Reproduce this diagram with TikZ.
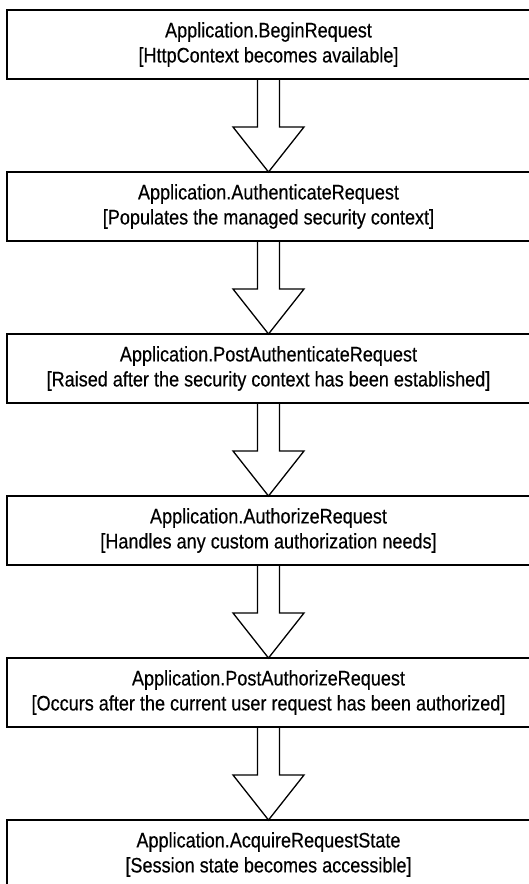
\documentclass[tikz,border=0pt]{standalone}
\usepackage{fontspec}
\setmainfont[FakeStretch=0.86,FakeBold=0.4]{Liberation Sans}
\usetikzlibrary{positioning}

\begin{document}
\begin{tikzpicture}[x=1pt, y=-1pt, node distance=93pt,
    every node/.style={font=\fontsize{21}{25}\selectfont},
    event/.style={draw, line width=1.6pt, minimum width=523pt, minimum height=69pt,
      inner sep=0pt, outer sep=0pt, align=center},
    flow/.style={line width=1.3pt, line join=miter}]
    \useasboundingbox (0,0) rectangle (529,884);
    \clip (0,0) rectangle (529,884);

    % Request pipeline events
    \node[event] (begin) at (268.5,44.5) {Application.BeginRequest\\{}[HttpContext becomes available]};
    \node[event, below=of begin] (authn) {Application.AuthenticateRequest\\{}[Populates the managed security context]};
    \node[event, below=of authn] (postauthn) {Application.PostAuthenticateRequest\\{}[Raised after the security context has been established]};
    \node[event, below=of postauthn] (authz) {Application.AuthorizeRequest\\{}[Handles any custom authorization needs]};
    \node[event, below=of authz] (postauthz) {Application.PostAuthorizeRequest\\{}[Occurs after the current user request has been authorized]};
    \node[event, below=of postauthz] (state) {Application.AcquireRequestState\\{}[Session state becomes accessible]};

    % Block arrows between events
    \foreach \a/\b in {begin/authn, authn/postauthn, postauthn/authz, authz/postauthz, postauthz/state}
      \draw[flow] ([xshift=-11pt]\a.south) |- ([xshift=-35.5pt,yshift=45pt]\b.north) -- (\b.north)
        -- ([xshift=35.5pt,yshift=45pt]\b.north) -| ([xshift=11pt]\a.south);
\end{tikzpicture}
\end{document}
